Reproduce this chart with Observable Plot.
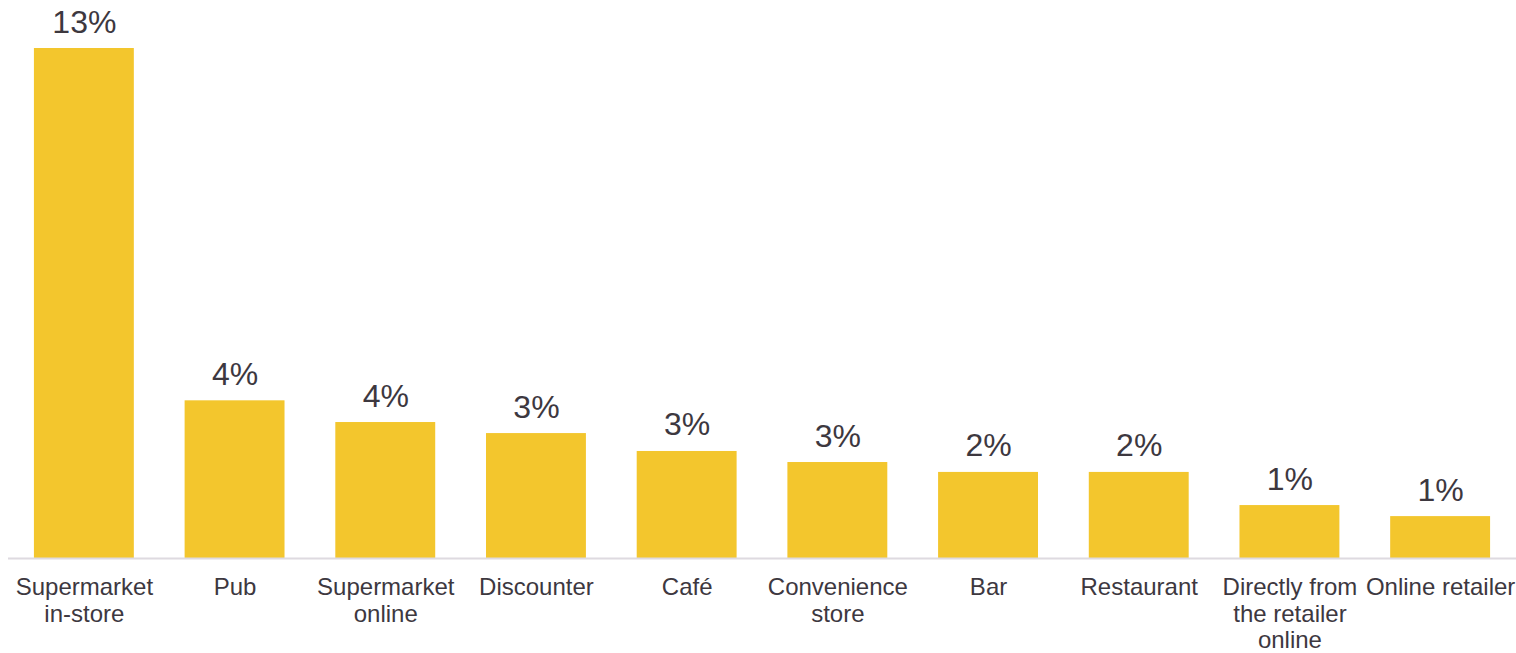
<!DOCTYPE html>
<html>
<head>
<meta charset="utf-8">
<script src="https://cdn.jsdelivr.net/npm/d3@7"></script>
<script src="https://cdn.jsdelivr.net/npm/@observablehq/plot@0.6"></script>
<style>
  html, body { margin: 0; padding: 0; background: #fff; }
  #chart svg { overflow: visible; display: block; }
</style>
</head>
<body>
<div id="chart"></div>
<script>
const categories = ["Supermarket in-store", "Pub", "Supermarket online", "Discounter", "Café", "Convenience store", "Bar", "Restaurant", "Directly from the retailer online", "Online retailer"];
const tickLabels = ["Supermarket\nin-store", "Pub", "Supermarket\nonline", "Discounter", "Café", "Convenience\nstore", "Bar", "Restaurant", "Directly from\nthe retailer\nonline", "Online retailer"];
const values = [13.39, 4.14, 3.57, 3.28, 2.81, 2.52, 2.26, 2.26, 1.39, 1.10];

const data = categories.map((c, i) => ({category: c, value: values[i], label: tickLabels[i]}));
const labelOf = new Map(categories.map((c, i) => [c, tickLabels[i]]));

const textColor = "#3d383f";
const barColor = "#F3C62D";

const chart = Plot.plot({
  width: 1516,
  height: 653,
  marginLeft: 8,
  marginRight: 0,
  marginTop: 48,
  marginBottom: 95,
  style: {fontFamily: "'Liberation Sans', Arial, sans-serif", color: textColor, background: "#fff"},
  x: {domain: categories, paddingInner: 0.337, paddingOuter: 0.172, round: false, axis: null},
  y: {domain: [0, d3.max(values)], axis: null},
  marks: [
    Plot.barY(data, {x: "category", y: "value", fill: barColor}),
    Plot.ruleY([0], {stroke: "#dedae0", strokeWidth: 2}),
    Plot.text(data, {x: "category", y: "value", text: d => Math.round(d.value) + "%", dy: -16, lineAnchor: "bottom", fontSize: 32, fill: textColor}),
    Plot.axisX({tickSize: 0, tickPadding: 18, fontSize: 24, lineHeight: 1.1, tickFormat: c => labelOf.get(c), fill: textColor, label: null})
  ]
});
document.getElementById("chart").appendChild(chart);
</script>
</body>
</html>
